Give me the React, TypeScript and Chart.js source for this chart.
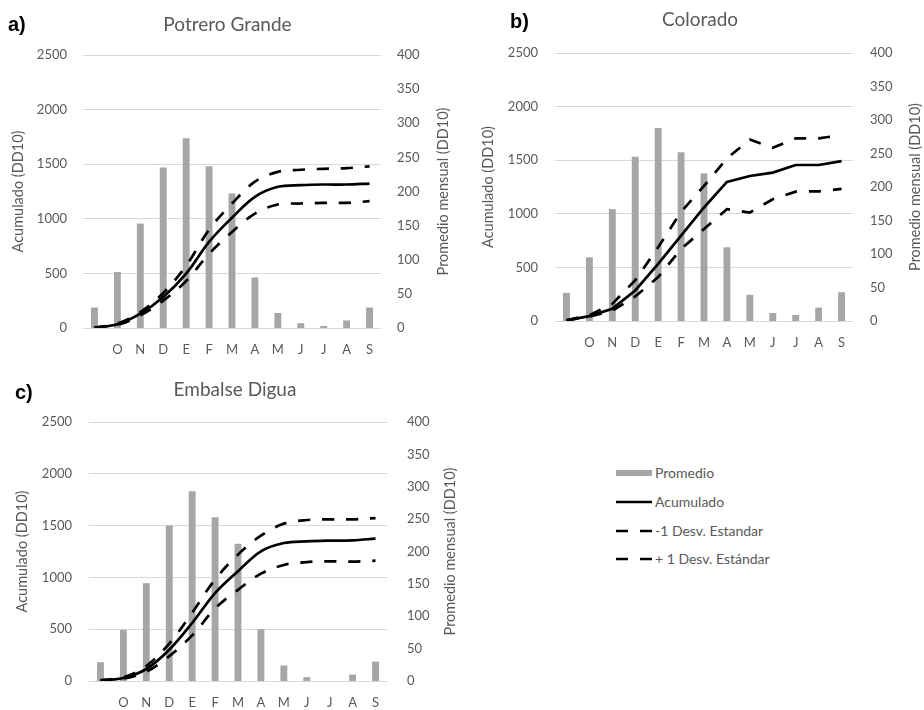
import React, { useEffect, useRef } from 'react';
import { Chart, registerables } from 'chart.js';

Chart.register(...registerables);
Chart.defaults.font.family = 'Lato, "Noto Sans", sans-serif';

// ---------- data ----------
const categories = ['', 'O', 'N', 'D', 'E', 'F', 'M', 'A', 'M', 'J', 'J', 'A', 'S'];
const leftTicks = [0, 500, 1000, 1500, 2000, 2500];
const rightTicks = [0, 50, 100, 150, 200, 250, 300, 350, 400];

// a) Potrero Grande
const promedioA = [30, 82, 153, 235, 278, 237, 197, 74, 22, 7, 3, 11, 30];
const acumA = [3, 34, 131, 284, 498, 789, 1010, 1201, 1293, 1308, 1314, 1314, 1323];
const upperA = [3, 40, 145, 320, 570, 900, 1140, 1340, 1430, 1449, 1458, 1464, 1480];
const lowerA = [3, 28, 115, 250, 430, 680, 880, 1048, 1131, 1140, 1146, 1146, 1161];

// b) Colorado
const promedioB = [42, 95, 167, 245, 288, 252, 220, 110, 39, 12, 9, 20, 43];
const acumB = [6, 46, 115, 285, 532, 796, 1059, 1297, 1353, 1384, 1455, 1455, 1492];
const upperB = [6, 55, 160, 380, 687, 1019, 1260, 1517, 1693, 1616, 1703, 1703, 1734];
const lowerB = [6, 40, 95, 229, 409, 672, 858, 1043, 1012, 1136, 1207, 1210, 1232];

// c) Embalse Digua
const promedioC = [29, 79, 151, 240, 293, 253, 212, 80, 24, 6, 0, 10, 30];
const acumC = [6, 29, 116, 302, 560, 849, 1060, 1252, 1332, 1348, 1355, 1358, 1374];
const upperC = [6, 35, 145, 360, 660, 980, 1220, 1403, 1519, 1554, 1560, 1560, 1573];
const lowerC = [6, 22, 90, 240, 440, 700, 880, 1036, 1120, 1148, 1155, 1152, 1161];

const seriesNames = ['Promedio', 'Acumulado', '-1 Desv. Estandar', '+ 1 Desv. Estándar'];
const leftTitle = 'Acumulado (DD10)';
const rightTitle = 'Promedio mensual (DD10)';

// ---------- styles ----------
const TEXT = '#595959';
const GRID = '#d9d9d9';
const BAR = '#a6a6a6';
const LINE = '#000000';
const TITLE_SIZE = 19;
const AXIS_TITLE_SIZE = 14.5;
const TICK_SIZE = 13;
const DASH = [12, 12];

type PanelSpec = {
  key: string;
  letter: string;
  title: string;
  promedio: number[];
  acum: number[];
  upper: number[];
  lower: number[];
  tension: number;
  canvasLeft: number;
  canvasTop: number;
  width: number;
  height: number;
  area: { l: number; r: number; t: number; b: number };
  leftLabelPad: number;
  rightLabelPad: number;
  leftTitleCenter: number;
  rightTitleCenter: number;
  titleX: number;
  titleY: number;
  letterX: number;
  letterY: number;
};

const panels: PanelSpec[] = [
  {
    key: 'a', letter: 'a)', title: 'Potrero Grande',
    promedio: promedioA, acum: acumA, upper: upperA, lower: lowerA, tension: 0.35,
    canvasLeft: 0, canvasTop: 0, width: 462, height: 362,
    area: { l: 83, r: 381, t: 55, b: 328 },
    leftLabelPad: 16, rightLabelPad: 16, leftTitleCenter: 18, rightTitleCenter: 443,
    titleX: 227.5, titleY: 25, letterX: 8, letterY: 25,
  },
  {
    key: 'b', letter: 'b)', title: 'Colorado',
    promedio: promedioB, acum: acumB, upper: upperB, lower: lowerB, tension: 0,
    canvasLeft: 462, canvasTop: 0, width: 462, height: 362,
    area: { l: 93, r: 391, t: 53, b: 321 },
    leftLabelPad: 17, rightLabelPad: 17, leftTitleCenter: 26, rightTitleCenter: 453,
    titleX: 238, titleY: 20, letterX: 48, letterY: 22,
  },
  {
    key: 'c', letter: 'c)', title: 'Embalse Digua',
    promedio: promedioC, acum: acumC, upper: upperC, lower: lowerC, tension: 0.35,
    canvasLeft: 0, canvasTop: 362, width: 462, height: 348,
    area: { l: 89, r: 387, t: 60, b: 319 },
    leftLabelPad: 17, rightLabelPad: 20, leftTitleCenter: 22, rightTitleCenter: 450,
    titleX: 235, titleY: 28, letterX: 15, letterY: 31,
  },
];

function PanelChart({ spec }: { spec: PanelSpec }) {
  const ref = useRef<HTMLCanvasElement | null>(null);
  useEffect(() => {
    const canvas = ref.current;
    if (!canvas) return;
    const s = spec;
    const leftW = s.area.l;
    const rightW = s.width - s.area.r;
    const bottomH = s.height - s.area.b;
    const lh = AXIS_TITLE_SIZE * 1.2;

    const decor = {
      id: 'decor_' + s.key,
      afterDraw(chart: any) {
        const ctx = chart.ctx as CanvasRenderingContext2D;
        const ca = chart.chartArea;
        ctx.save();
        ctx.fillStyle = TEXT;
        ctx.font = `${TITLE_SIZE}px Lato`;
        ctx.textAlign = 'center';
        ctx.textBaseline = 'middle';
        ctx.fillText(s.title, s.titleX, s.titleY);
        ctx.fillStyle = '#000';
        ctx.font = 'bold 20px "Liberation Sans", Arial, sans-serif';
        ctx.textAlign = 'left';
        ctx.fillText(s.letter, s.letterX, s.letterY);
        ctx.translate(s.rightTitleCenter, (ca.top + ca.bottom) / 2);
        ctx.rotate(-Math.PI / 2);
        ctx.fillStyle = TEXT;
        ctx.font = `${AXIS_TITLE_SIZE}px Lato`;
        ctx.textAlign = 'center';
        ctx.fillText(rightTitle, 0, 0);
        ctx.restore();
      },
    };

    const lineBase = {
      type: 'line' as const,
      yAxisID: 'y',
      borderColor: LINE,
      backgroundColor: LINE,
      borderWidth: 2.7,
      pointRadius: 0,
      pointHoverRadius: 0,
      tension: s.tension,
      fill: false,
      order: 1,
    };

    const plain = (v: any) => String(v);

    const chart = new Chart(canvas, {
      type: 'bar',
      data: {
        labels: categories,
        datasets: [
          {
            type: 'bar',
            label: seriesNames[0],
            data: s.promedio,
            yAxisID: 'y1',
            backgroundColor: BAR,
            barPercentage: 0.3,
            categoryPercentage: 1,
            order: 2,
          },
          { ...lineBase, label: seriesNames[1], data: s.acum },
          { ...lineBase, label: seriesNames[2], data: s.lower, borderDash: DASH },
          { ...lineBase, label: seriesNames[3], data: s.upper, borderDash: DASH },
        ] as any,
      },
      options: {
        responsive: false,
        animation: false,
        layout: { padding: { top: s.area.t, left: 0, right: 0, bottom: 0 } },
        plugins: {
          legend: { display: false },
          tooltip: { enabled: false },
          title: { display: false },
        },
        scales: {
          x: {
            offset: true,
            grid: { display: false, drawTicks: false },
            border: { display: false },
            ticks: {
              padding: 14,
              color: TEXT,
              font: { size: TICK_SIZE },
              maxRotation: 0,
              autoSkip: false,
            },
            afterFit: (sc: any) => { sc.height = bottomH; },
          },
          y: {
            position: 'left',
            min: leftTicks[0],
            max: leftTicks[leftTicks.length - 1],
            ticks: {
              stepSize: leftTicks[1] - leftTicks[0],
              padding: s.leftLabelPad,
              color: TEXT,
              font: { size: TICK_SIZE },
              callback: plain,
            },
            grid: { color: GRID, drawTicks: false, lineWidth: 1 },
            border: { display: false },
            title: {
              display: true,
              text: leftTitle,
              color: TEXT,
              font: { size: AXIS_TITLE_SIZE },
              padding: { top: s.leftTitleCenter - lh / 2, bottom: 0 },
            },
            afterFit: (sc: any) => { sc.width = leftW; },
          },
          y1: {
            position: 'right',
            min: rightTicks[0],
            max: rightTicks[rightTicks.length - 1],
            ticks: {
              stepSize: rightTicks[1] - rightTicks[0],
              padding: s.rightLabelPad,
              color: TEXT,
              font: { size: TICK_SIZE },
              callback: plain,
            },
            grid: { display: false, drawTicks: false },
            border: { display: false },
            afterFit: (sc: any) => { sc.width = rightW; },
          },
        },
      } as any,
      plugins: [decor],
    });
    return () => chart.destroy();
  }, [spec]);

  return (
    <canvas
      ref={ref}
      width={spec.width}
      height={spec.height}
      style={{
        position: 'absolute',
        left: spec.canvasLeft,
        top: spec.canvasTop,
        width: spec.width,
        height: spec.height,
      }}
    />
  );
}

const legendItems = [
  { kind: 'bar', y: 473 },
  { kind: 'solid', y: 502 },
  { kind: 'dash', y: 531 },
  { kind: 'dash', y: 559 },
];

function Swatch({ kind }: { kind: string }) {
  return (
    <svg width={36} height={10} style={{ display: 'block' }}>
      {kind === 'bar' && <rect x={0} y={2} width={36} height={6} fill={BAR} />}
      {kind === 'solid' && <line x1={0} y1={5} x2={36} y2={5} stroke={LINE} strokeWidth={2.7} />}
      {kind === 'dash' && (
        <line x1={0} y1={5} x2={36} y2={5} stroke={LINE} strokeWidth={2.7} strokeDasharray="12 12" />
      )}
    </svg>
  );
}

export default function App() {
  return (
    <div
      style={{
        position: 'absolute',
        left: 0,
        top: 0,
        width: 924,
        height: 710,
        background: '#ffffff',
        overflow: 'hidden',
      }}
    >
      {panels.map((p) => (
        <PanelChart key={p.key} spec={p} />
      ))}
      {legendItems.map((it, i) => (
        <div
          key={i}
          style={{
            position: 'absolute',
            left: 616,
            top: it.y - 10,
            height: 20,
            display: 'flex',
            alignItems: 'center',
            fontFamily: 'Lato, "Noto Sans", sans-serif',
            fontSize: 14,
            color: TEXT,
            whiteSpace: 'nowrap',
          }}
        >
          <Swatch kind={it.kind} />
          <span style={{ marginLeft: 3, lineHeight: '20px' }}>{seriesNames[i]}</span>
        </div>
      ))}
    </div>
  );
}
